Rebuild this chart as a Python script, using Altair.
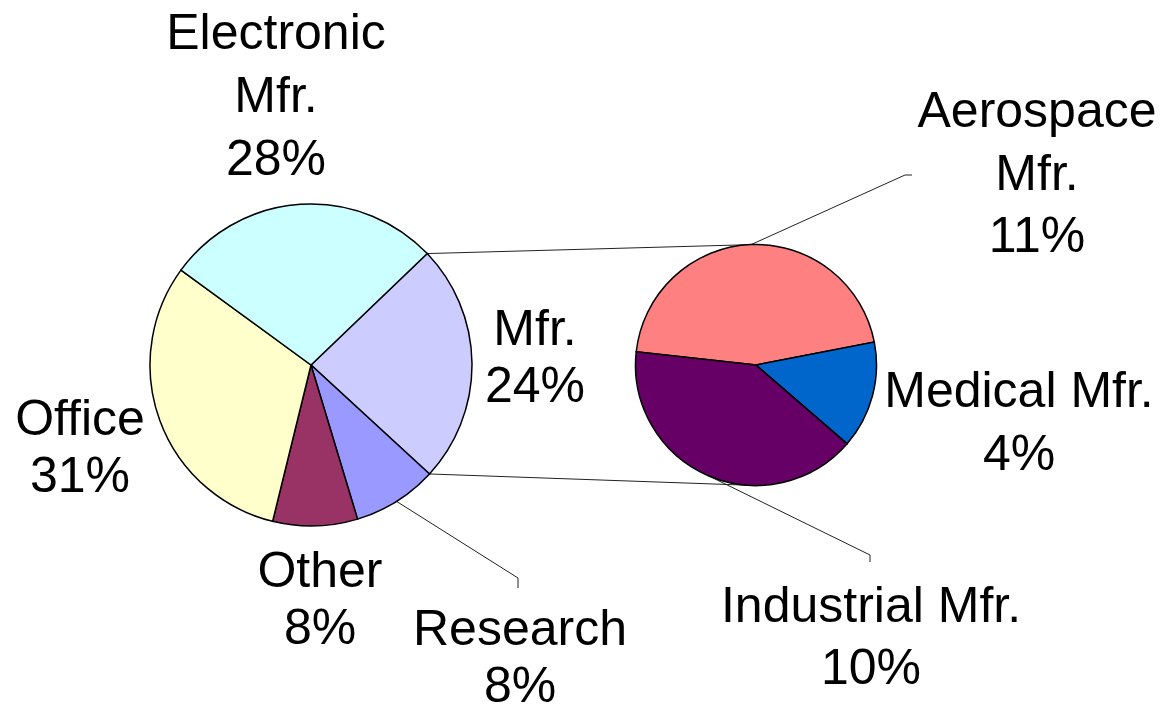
import math
import altair as alt
import pandas as pd

# ---------------- data ----------------
main_cats = ["Mfr.", "Research", "Other", "Office", "Electronic Mfr."]
main_vals = [24.0, 8.5, 8.5, 31.2, 27.8]
main_colors = ["#CCCCFF", "#9999FF", "#993366", "#FFFFCC", "#CCFFFF"]

sub_cats = ["Aerospace Mfr.", "Medical Mfr.", "Industrial Mfr."]
sub_vals = [11.3, 3.6, 10.1]
sub_colors = ["#FF8080", "#0066CC", "#660066"]

label_lines = [
    ["Electronic", "Mfr.", "28%"],
    ["Mfr.", "24%"],
    ["Office", "31%"],
    ["Other", "8%"],
    ["Research", "8%"],
    ["Aerospace", "Mfr.", "11%"],
    ["Medical Mfr.", "4%"],
    ["Industrial Mfr.", "10%"],
]

# ---------------- layout ----------------
OFF = 8
W, H = 1149, 697
MAIN_C = (311 - OFF, 365 - OFF)
MAIN_R = 161
MAIN_START = 46.2  # degrees, clockwise from 12 o'clock
SUB_C = (756 - OFF, 365 - OFF)
SUB_R = 120.5
SUB_START = 276.3

# label anchors: centre x, first baseline y, line spacing (page px)
label_pos = [
    (276, 48.5, 63),
    (535, 345, 57),
    (80, 435, 57),
    (320, 587, 57),
    (520, 645, 57),
    (1037, 127, 62.5),
    (1019, 407, 63),
    (871, 622, 62),
]

FONT = "Liberation Sans"
FS = 50


def edge(center, r, deg):
    a = math.radians(deg)
    return (center[0] + r * math.sin(a), center[1] - r * math.cos(a))


def cum_angles(vals, start):
    tot = sum(vals)
    out = []
    acc = start
    for v in vals:
        a0 = acc
        acc += 360.0 * v / tot
        out.append((a0, acc))
    return out


main_ang = cum_angles(main_vals, MAIN_START)
sub_ang = cum_angles(sub_vals, SUB_START)

main_df = pd.DataFrame({"c": main_cats, "v": main_vals, "i": range(len(main_cats))})
sub_df = pd.DataFrame({"c": sub_cats, "v": sub_vals, "i": range(len(sub_cats))})

ms = math.radians(MAIN_START)
ss = math.radians(SUB_START)

main_pie = alt.Chart(main_df).mark_arc(radius=MAIN_R, stroke="black", strokeWidth=1.5).encode(
    theta=alt.Theta("v:Q", stack=True, scale=alt.Scale(range=[ms, ms + 2 * math.pi])),
    color=alt.Color("c:N", scale=alt.Scale(domain=main_cats, range=main_colors), legend=None),
    order=alt.Order("i:Q"),
    x=alt.value(MAIN_C[0]),
    y=alt.value(MAIN_C[1]),
)

sub_pie = alt.Chart(sub_df).mark_arc(radius=SUB_R, stroke="black", strokeWidth=1.5).encode(
    theta=alt.Theta("v:Q", stack=True, scale=alt.Scale(range=[ss, ss + 2 * math.pi])),
    color=alt.Color("c:N", scale=alt.Scale(domain=sub_cats, range=sub_colors), legend=None),
    order=alt.Order("i:Q"),
    x=alt.value(SUB_C[0]),
    y=alt.value(SUB_C[1]),
)

# connector lines between the pies (from the edges of the "Mfr." slice)
p_top = edge(MAIN_C, MAIN_R, main_ang[0][0])
p_bot = edge(MAIN_C, MAIN_R, main_ang[0][1])
s_top = (SUB_C[0], SUB_C[1] - SUB_R)
s_bot = (SUB_C[0], SUB_C[1] + SUB_R)

segs = [
    (p_top, s_top),
    (p_bot, s_bot),
]

# leader lines
r_mid = (main_ang[1][0] + main_ang[1][1]) / 2
r_from = edge(MAIN_C, MAIN_R, r_mid)
r_elb = (518 - OFF, 578 - OFF)
r_end = (518 - OFF, 588 - OFF)
i_mid = (sub_ang[2][0] + sub_ang[2][1]) / 2
i_from = edge(SUB_C, SUB_R, i_mid)
i_elb = (870 - OFF, 555 - OFF)
i_end = (870 - OFF, 562 - OFF)
a_mid = (sub_ang[0][0] + sub_ang[0][1]) / 2
a_from = edge(SUB_C, SUB_R, a_mid)
a_elb = (905 - OFF, 175 - OFF)
a_end = (912 - OFF, 175 - OFF)
segs += [
    (r_from, r_elb), (r_elb, r_end),
    (i_from, i_elb), (i_elb, i_end),
    (a_from, a_elb), (a_elb, a_end),
]

seg_df = pd.DataFrame({
    "x": [s[0][0] for s in segs],
    "y": [s[0][1] for s in segs],
    "x2": [s[1][0] for s in segs],
    "y2": [s[1][1] for s in segs],
})

lines = alt.Chart(seg_df).mark_rule(color="#222222", strokeWidth=1).encode(
    x=alt.X("x:Q", scale=None, axis=None),
    y=alt.Y("y:Q", scale=None, axis=None),
    x2="x2:Q",
    y2="y2:Q",
)

rows = []
for lines_txt, (lx, ly, sp) in zip(label_lines, label_pos):
    for k, t in enumerate(lines_txt):
        rows.append({"t": t, "x": lx - OFF, "y": ly - OFF + k * sp})
txt_df = pd.DataFrame(rows)

labels = alt.Chart(txt_df).mark_text(
    font=FONT, fontSize=FS, align="center", baseline="alphabetic", color="black"
).encode(
    x=alt.X("x:Q", scale=None, axis=None),
    y=alt.Y("y:Q", scale=None, axis=None),
    text="t:N",
)

chart = alt.layer(lines, main_pie, sub_pie, labels).resolve_scale(
    theta="independent", color="independent"
).properties(
    width=W, height=H, padding=0,
    autosize=alt.AutoSizeParams(type="none"),
    background="white",
).configure_view(stroke=None)

chart.save("out.html", embed_options={"renderer": "svg", "actions": False})
